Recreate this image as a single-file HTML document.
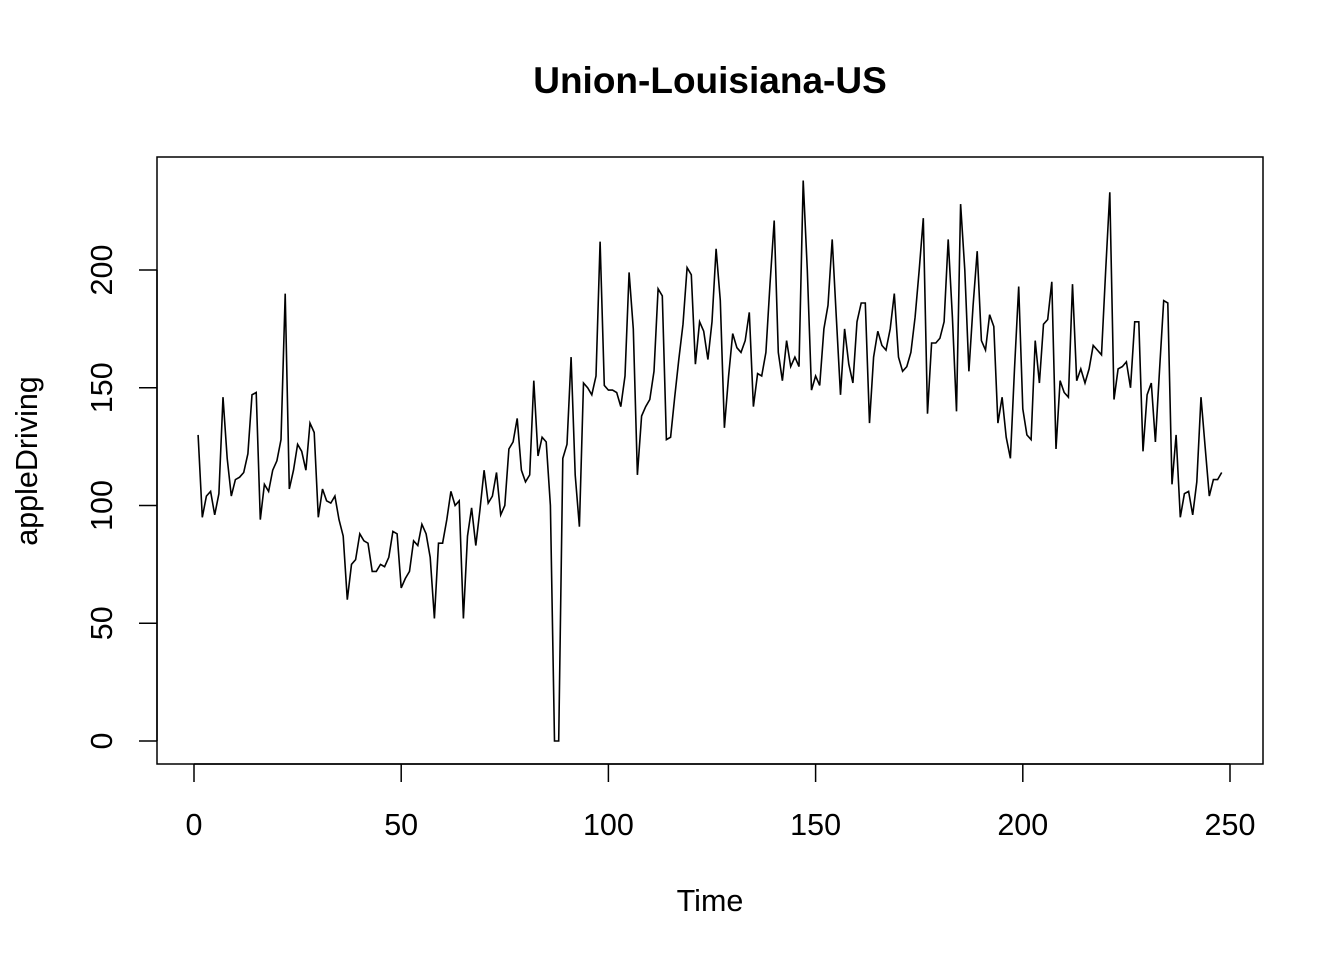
<!DOCTYPE html>
<html><head><meta charset="utf-8"><style>
body{margin:0;background:#fff;}
svg{display:block;font-family:"Liberation Sans",Arial,sans-serif;}
</style></head><body>
<svg id="chart" width="1344" height="960" viewBox="0 0 1344 960">
<text x="710" y="93" text-anchor="middle" font-size="37" font-weight="bold">Union-Louisiana-US</text>
<rect x="157" y="157" width="1106" height="607" fill="none" stroke="#000" stroke-width="1.5"/>
<text x="710" y="911" text-anchor="middle" font-size="30.5">Time</text>
<text transform="translate(37,461) rotate(-90)" text-anchor="middle" font-size="30.5">appleDriving</text>
<g id="xaxis"></g>
<g id="yaxis"></g>
<path id="line" fill="none" stroke="#000" stroke-width="1.6"/>
</svg>
<script>
const xTicks=[0,50,100,150,200,250];
const yTicks=[0,50,100,150,200];
const values=[130,95,104,106,96,105,146,120,104,111,112,114,122,147,148,94,109,106,115,119,128,190,107,115,126,123,115,135,131,95,107,102,101,104,94,87,60,75,77,88,85,84,72,72,75,74,78,89,88,65,69,72,85,83,92,88,78,52,84,84,94,106,100,102,52,87,99,83,98,115,101,104,114,96,100,124,127,137,115,110,113,153,121,129,127,100,0,0,120,126,163,113,91,152,150,147,155,212,151,149,149,148,142,155,199,175,113,138,142,145,157,192,189,128,129,146,162,177,201,198,160,178,174,162,178,209,187,133,155,173,167,165,170,182,142,156,155,165,194,221,165,153,170,159,163,159,238,200,149,155,151,175,185,213,180,147,175,160,152,178,186,186,135,163,174,168,166,175,190,163,157,159,165,180,200,222,139,169,169,171,178,213,180,140,228,200,157,185,208,170,166,181,176,135,146,129,120,158,193,141,130,128,170,152,177,179,195,124,153,148,146,194,153,158,152,158,168,166,164,200,233,145,158,159,161,150,178,178,123,147,152,127,158,187,186,109,130,95,105,106,96,110,146,125,104,111,111,114];
const NS="http://www.w3.org/2000/svg";
function xs(t){return 194+(1230-194)*t/250;}
function ys(v){return 741-(741-270)*v/200;}
const xa=document.getElementById('xaxis'), ya=document.getElementById('yaxis');
function mk(tag,attrs,parent){const e=document.createElementNS(NS,tag);for(const k in attrs)e.setAttribute(k,attrs[k]);parent.appendChild(e);return e;}
mk('line',{x1:xs(0),x2:xs(250),y1:764,y2:764,stroke:'#000','stroke-width':1.5},xa);
xTicks.forEach(t=>{
  const l=mk('line',{x1:xs(t),x2:xs(t),y1:764,y2:782,stroke:'#000','stroke-width':1.5},xa);
  
  
  const tx=mk('text',{x:xs(t),y:835,'text-anchor':'middle','font-size':30.5},xa);
  tx.textContent=t;
  
  
});
mk('line',{x1:157,x2:157,y1:ys(0),y2:ys(200),stroke:'#000','stroke-width':1.5},ya);
yTicks.forEach(v=>{
  const l=mk('line',{x1:139,x2:157,y1:ys(v),y2:ys(v),stroke:'#000','stroke-width':1.5},ya);
  
  
  const tx=mk('text',{transform:`translate(112,${ys(v)}) rotate(-90)`,'text-anchor':'middle','font-size':30.5},ya);
  tx.textContent=v;
  
  
});
document.getElementById('line').setAttribute('d',values.map((v,i)=>(i?'L':'M')+xs(i+1).toFixed(1)+','+ys(v).toFixed(1)).join(''));
</script>
</body></html>
